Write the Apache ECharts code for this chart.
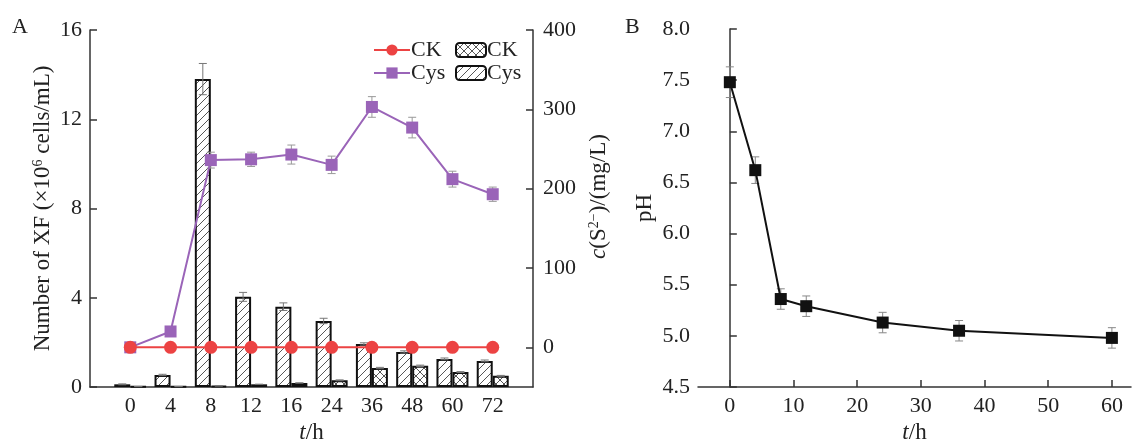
<!DOCTYPE html>
<html>
<head>
<meta charset="utf-8">
<script src="https://cdn.jsdelivr.net/npm/echarts@6/dist/echarts.min.js"></script>
<style>
  html, body { margin: 0; padding: 0; background: #fff; }
  #main { width: 1132px; height: 441px; }
</style>
</head>
<body>
<div id="main"></div>
<script>
// panel A: time points (h)
const hours = ['0', '4', '8', '12', '16', '24', '36', '48', '60', '72'];
// number of XF (x10^6 cells/mL), bars
const xfCys = [0.12, 0.54, 13.8, 4.04, 3.6, 2.96, 1.93, 1.57, 1.26, 1.17];
const xfCysErr = [0.02, 0.03, 0.7, 0.2, 0.17, 0.12, 0.05, 0.05, 0.04, 0.04];
const xfCK = [0.02, 0.02, 0.05, 0.12, 0.18, 0.3, 0.85, 0.95, 0.67, 0.5];
const xfCKErr = [0, 0, 0, 0, 0, 0.02, 0.03, 0.03, 0.02, 0.02];
// c(S2-) (mg/L), lines
const sCK = [0, 0, 0, 0, 0, 0, 0, 0, 0, 0];
const sCys = [0, 20, 236, 237, 243, 230, 303, 277, 212, 193];
const sCysErr = [2, 3, 10, 9, 12, 11, 13, 13, 10, 9];
const rightTicks = [0, 100, 200, 300, 400];

// panel B: pH
const phTime = [0, 4, 8, 12, 24, 36, 60];
const phVal = [7.48, 6.62, 5.36, 5.29, 5.13, 5.05, 4.98];
const phErr = [0.15, 0.13, 0.1, 0.1, 0.1, 0.1, 0.1];
const phTicks = [0, 10, 20, 30, 40, 50, 60];

const FONT = "'Liberation Serif', 'Times New Roman', serif";
const TXT = '#222';
const AX = '#333';

// hatch patterns for the bars
function pattern(cross) {
  const s = 8;
  const c = document.createElement('canvas');
  c.width = s; c.height = s;
  const g = c.getContext('2d');
  g.fillStyle = '#fff';
  g.fillRect(0, 0, s, s);
  g.strokeStyle = '#444';
  g.lineWidth = 0.9;
  g.beginPath();
  g.moveTo(0, s); g.lineTo(s, 0);
  g.moveTo(-1, 1); g.lineTo(1, -1);
  g.moveTo(s - 1, s + 1); g.lineTo(s + 1, s - 1);
  if (cross) {
    g.moveTo(0, 0); g.lineTo(s, s);
    g.moveTo(-1, s - 1); g.lineTo(1, s + 1);
    g.moveTo(s - 1, -1); g.lineTo(s + 1, 1);
  }
  g.stroke();
  return { image: c, repeat: 'repeat' };
}

function errBars(offset, cap, color) {
  return function (params, api) {
    const x = api.value(0), y = api.value(1), e = api.value(2);
    const hi = api.coord([x, y + e]);
    const lo = api.coord([x, y - e]);
    const cx = hi[0] + offset;
    const st = { stroke: color, lineWidth: 1 };
    return {
      type: 'group',
      children: [
        { type: 'line', shape: { x1: cx, y1: hi[1], x2: cx, y2: lo[1] }, style: st },
        { type: 'line', shape: { x1: cx - cap, y1: hi[1], x2: cx + cap, y2: hi[1] }, style: st },
        { type: 'line', shape: { x1: cx - cap, y1: lo[1], x2: cx + cap, y2: lo[1] }, style: st }
      ]
    };
  };
}

const pair = (arr) => hours.map((h, i) => [h, arr[i]]);
const triple = (arr, err) => hours.map((h, i) => [h, arr[i], err[i]]);

const rich = {
  it: { fontFamily: FONT, fontSize: 23, fontStyle: 'italic', color: TXT },
  sup: { fontFamily: FONT, fontSize: 14, color: TXT, verticalAlign: 'top', padding: [0, 0, 8, 0] }
};
const nameStyle = { fontFamily: FONT, fontSize: 23, color: TXT, rich: rich };
const labelStyle = { fontFamily: FONT, fontSize: 22, color: TXT };
const lineAx = { show: true, lineStyle: { color: AX, width: 1.5 } };
const tickIn = { show: true, inside: true, length: 7, lineStyle: { color: AX, width: 1.5 } };
const legendText = { fontFamily: FONT, fontSize: 22, color: TXT, padding: [0, 0, 0, -4] };

const myChart = echarts.init(document.getElementById('main'));
myChart.setOption({
  animation: false,
  grid: [
    { left: 90, right: 599, top: 30, bottom: 54, outerBoundsMode: 'none', containLabel: false },
    { left: 698, right: 1, top: 29, bottom: 54, outerBoundsMode: 'none', containLabel: false }
  ],
  graphic: [
    { type: 'text', left: 12, top: 16, style: { text: 'A', font: '22px ' + FONT, fill: TXT } },
    { type: 'text', left: 625, top: 16, style: { text: 'B', font: '22px ' + FONT, fill: TXT } }
  ],
  legend: [
    {
      orient: 'vertical', left: 368, top: 34, itemGap: 1,
      itemWidth: 36, itemHeight: 14,
      data: ['CK', 'Cys'],
      textStyle: legendText
    },
    {
      orient: 'vertical', left: 450, top: 34, itemGap: 1,
      itemWidth: 30, itemHeight: 14,
      data: ['CK_bar', 'Cys_bar'],
      formatter: (n) => n.replace('_bar', ''),
      textStyle: legendText
    }
  ],
  xAxis: [
    {
      gridIndex: 0, type: 'category', data: [''].concat(hours, ['']),
      boundaryGap: false,
      name: '{it|t}/h', nameLocation: 'middle', nameGap: 31, nameTextStyle: nameStyle,
      axisLine: lineAx, axisTick: { show: false },
      axisLabel: Object.assign({ interval: 0, margin: 8 }, labelStyle),
      splitLine: { show: false }
    },
    {
      gridIndex: 1, type: 'value', min: -5, max: 63,
      name: '{it|t}/h', nameLocation: 'middle', nameGap: 31, nameTextStyle: nameStyle,
      axisLine: lineAx,
      axisTick: Object.assign({ customValues: phTicks }, tickIn),
      axisLabel: Object.assign({ customValues: phTicks, margin: 8 }, labelStyle),
      splitLine: { show: false }
    }
  ],
  yAxis: [
    {
      gridIndex: 0, type: 'value', min: 0, max: 16, interval: 4,
      name: 'Number of XF (×10{sup|6} cells/mL)', nameLocation: 'middle', nameGap: 36,
      nameTextStyle: nameStyle,
      axisLine: lineAx, axisTick: tickIn,
      axisLabel: Object.assign({ margin: 8 }, labelStyle),
      splitLine: { show: false }
    },
    {
      gridIndex: 0, type: 'value', position: 'right', min: -50, max: 400,
      name: '{it|c}(S{sup|2−})/(mg/L)', nameLocation: 'middle', nameGap: 54,
      nameTextStyle: Object.assign({}, nameStyle, { padding: [0, 0, 0, 24] }),
      axisLine: lineAx,
      axisTick: Object.assign({ customValues: rightTicks }, tickIn),
      axisLabel: Object.assign({ customValues: rightTicks, margin: 10 }, labelStyle),
      splitLine: { show: false }
    },
    {
      gridIndex: 1, type: 'value', min: 4.5, max: 8, interval: 0.5,
      name: 'pH', nameLocation: 'middle', nameGap: 42, nameTextStyle: nameStyle,
      axisLine: lineAx, axisTick: tickIn,
      axisLabel: Object.assign({ margin: 8, formatter: (v) => v.toFixed(1) }, labelStyle),
      splitLine: { show: false }
    }
  ],
  series: [
    {
      name: 'Cys_bar', type: 'bar', xAxisIndex: 0, yAxisIndex: 0,
      barWidth: 16, barGap: '0%', z: 2,
      itemStyle: { color: pattern(false), borderColor: '#111', borderWidth: 2 },
      data: pair(xfCys)
    },
    {
      name: 'CK_bar', type: 'bar', xAxisIndex: 0, yAxisIndex: 0,
      barWidth: 16, barGap: '0%', z: 2,
      itemStyle: { color: pattern(true), borderColor: '#111', borderWidth: 2 },
      data: pair(xfCK)
    },
    {
      type: 'custom', xAxisIndex: 0, yAxisIndex: 0, z: 3,
      renderItem: errBars(-8, 4, '#777'), encode: { x: 0, y: 1 },
      data: triple(xfCys, xfCysErr)
    },
    {
      type: 'custom', xAxisIndex: 0, yAxisIndex: 0, z: 3,
      renderItem: errBars(8, 4, '#777'), encode: { x: 0, y: 1 },
      data: triple(xfCK, xfCKErr)
    },
    {
      type: 'custom', xAxisIndex: 0, yAxisIndex: 1, z: 4,
      renderItem: errBars(0, 4, '#999'), encode: { x: 0, y: 1 },
      data: triple(sCys, sCysErr)
    },
    {
      name: 'Cys', type: 'line', xAxisIndex: 0, yAxisIndex: 1, z: 5,
      symbol: 'rect', symbolSize: 12,
      lineStyle: { color: '#9a64b8', width: 2 },
      itemStyle: { color: '#9a64b8' },
      data: pair(sCys)
    },
    {
      name: 'CK', type: 'line', xAxisIndex: 0, yAxisIndex: 1, z: 6,
      symbol: 'circle', symbolSize: 13,
      lineStyle: { color: '#ec4343', width: 2 },
      itemStyle: { color: '#ec4343' },
      data: pair(sCK)
    },
    {
      type: 'custom', xAxisIndex: 1, yAxisIndex: 2, z: 3,
      renderItem: errBars(0, 4, '#888'), encode: { x: 0, y: 1 },
      data: phTime.map((t, i) => [t, phVal[i], phErr[i]])
    },
    {
      name: 'pH', type: 'line', xAxisIndex: 1, yAxisIndex: 2, z: 5,
      symbol: 'rect', symbolSize: 12,
      lineStyle: { color: '#111', width: 2 },
      itemStyle: { color: '#111' },
      data: phTime.map((t, i) => [t, phVal[i]])
    }
  ]
});
</script>
</body>
</html>
